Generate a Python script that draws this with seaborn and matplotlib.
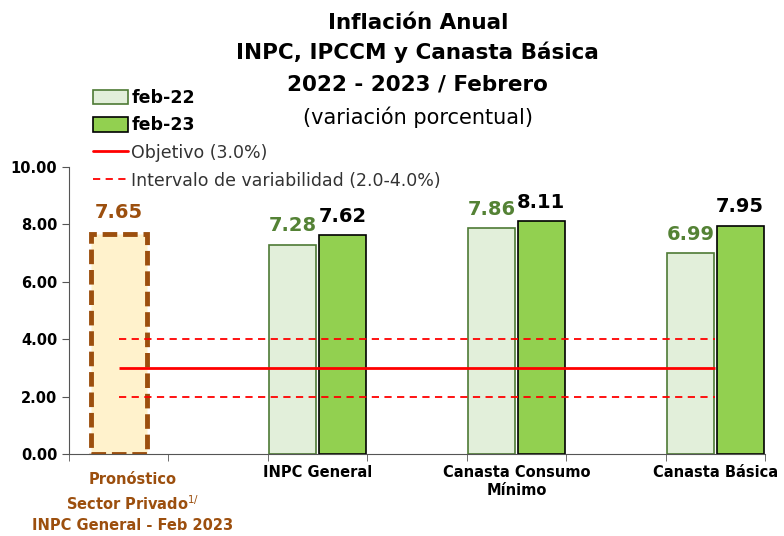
import numpy as np
import pandas as pd
import matplotlib
matplotlib.use("Agg")
import matplotlib.pyplot as plt
import seaborn as sns
from matplotlib.patches import Patch
from matplotlib.lines import Line2D

# DATA
slots = ["Pronóstico", " ", "INPC General", "  ", "Canasta Consumo\nMínimo", "   ", "Canasta Básica"]
groups = ["INPC General", "Canasta Consumo\nMínimo", "Canasta Básica"]
series = ["feb-22", "feb-23"]
feb22 = [7.28, 7.86, 6.99]
feb23 = [7.62, 8.11, 7.95]
pronostico = 7.65
pronostico_label = "Pronóstico\nSector Privado$^{1/}$\nINPC General - Feb 2023"
objetivo = 3.0
intervalo = [2.0, 4.0]
yticks = [0, 2, 4, 6, 8, 10]

# COLORS
light = "#E2EFDA"
light_edge = "#4E7A35"
dark = "#92D050"
brown = "#9C4F0E"
cream = "#FFF2CC"

df = pd.DataFrame({
    "Categoria": groups * 2,
    "Serie": ["feb-22"] * 3 + ["feb-23"] * 3,
    "Valor": feb22 + feb23,
})

sns.set_style("ticks")
plt.rcParams["font.family"] = ["DejaVu Sans"]
plt.rcParams["text.color"] = "black"
plt.rcParams["xtick.color"] = "black"
plt.rcParams["ytick.color"] = "black"

fig = plt.figure(figsize=(7.84, 5.36), dpi=100)
ax = fig.add_axes([69 / 784, 82 / 536, (765 - 69) / 784, (454 - 167) / 536])

# forecast bar
sns.barplot(x=[slots[0]], y=[pronostico], order=slots, width=0.56,
            color=cream, edgecolor=brown, linewidth=3.5, linestyle=(0, (3, 1.2)),
            ax=ax, saturation=1)

# paired bars
sns.barplot(data=df, x="Categoria", y="Valor", hue="Serie", order=slots,
            hue_order=series, palette=[light, dark], width=1.0, gap=0.06,
            saturation=1, linewidth=1.2, ax=ax, legend=False)

for bar in ax.containers[1]:
    bar.set_edgecolor(light_edge)
for bar in ax.containers[2]:
    bar.set_edgecolor("black")

# target lines
ax.hlines(objetivo, 0, 6, color="red", lw=2, zorder=5)
ax.hlines(intervalo, 0, 6, color="red", lw=1.3, linestyle=(0, (4, 3)), zorder=5)

# value labels
ax.bar_label(ax.containers[0], labels=[f"{pronostico:.2f}"], padding=9,
             color=brown, fontsize=14, fontweight="bold")
ax.bar_label(ax.containers[1], labels=[f"{v:.2f}" for v in feb22], padding=7,
             color="#548235", fontsize=14, fontweight="bold")
ax.bar_label(ax.containers[2], labels=[f"{v:.2f}" for v in feb23], padding=7,
             color="black", fontsize=14, fontweight="bold")

ax.set_xlim(-0.5, 6.5)
ax.set_ylim(0, 10)
ax.set_yticks(yticks)
ax.set_yticklabels([f"{v:.2f}" for v in yticks], fontsize=10.5, fontweight="bold")
ax.set_xlabel("")
ax.set_ylabel("")
ax.set_xticks(range(len(slots)))
ax.set_xticklabels([""] + slots[1:], fontsize=10.5, fontweight="bold")
ax.tick_params(axis="x", length=0, pad=8)
ax.set_xticks(np.arange(-0.5, 7, 1), minor=True)
ax.tick_params(axis="x", which="minor", length=5, color="#555555")
ax.tick_params(axis="y", length=5, color="#555555")
sns.despine(ax=ax)
ax.spines["left"].set_color("#555555")
ax.spines["bottom"].set_color("#555555")

# forecast category label, set a bit lower and to the right
ax.annotate(pronostico_label, xy=(0, 0), xycoords=("data", "axes fraction"),
            xytext=(10, -13), textcoords="offset points", ha="center", va="top",
            color=brown, fontsize=10.5, fontweight="bold", linespacing=1.45)

# title
fig.text(0.533, 0.958, "Inflación Anual", ha="center", va="center", fontsize=15.5, fontweight="bold")
fig.text(0.533, 0.902, "INPC, IPCCM y Canasta Básica", ha="center", va="center", fontsize=15.5, fontweight="bold")
fig.text(0.533, 0.843, "2022 - 2023 / Febrero", ha="center", va="center", fontsize=15.5, fontweight="bold")
fig.text(0.533, 0.782, "(variación porcentual)", ha="center", va="center", fontsize=15)

# legend
handles = [
    Patch(facecolor=light, edgecolor=light_edge, linewidth=1.2),
    Patch(facecolor=dark, edgecolor="black", linewidth=1.2),
    Line2D([], [], color="red", lw=2),
    Line2D([], [], color="red", lw=1.3, linestyle=(0, (4, 3))),
]
labels = ["feb-22", "feb-23", "Objetivo (3.0%)", "Intervalo de variabilidad (2.0-4.0%)"]
leg = fig.legend(handles, labels, loc="upper left", bbox_to_anchor=(86 / 784, 1 - 82 / 536),
                 frameon=False, fontsize=12.5, handlelength=2.0, handleheight=0.9,
                 handletextpad=0.2, labelspacing=0.55, borderaxespad=0)
for t in leg.get_texts()[:2]:
    t.set_fontweight("bold")
for t in leg.get_texts()[2:]:
    t.set_color("#333333")

fig.savefig("out.png", dpi=100)
